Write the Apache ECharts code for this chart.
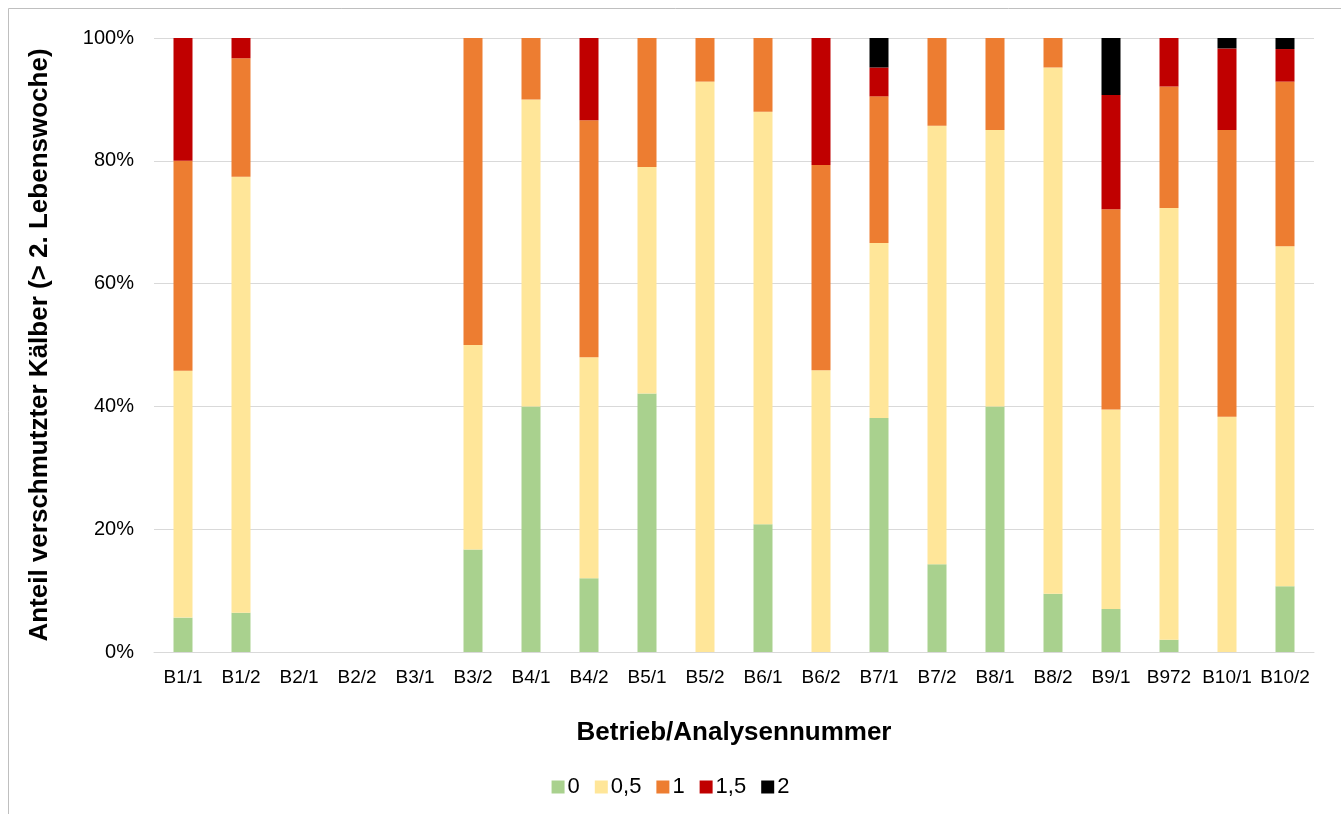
<!DOCTYPE html>
<html><head><meta charset="utf-8">
<script src="https://cdn.jsdelivr.net/npm/echarts@6/dist/echarts.min.js"></script>
<style>html,body{margin:0;padding:0;background:#fff}#c{width:1341px;height:814px}</style>
</head><body><div id="c"></div>
<script>
const categories = ["B1/1","B1/2","B2/1","B2/2","B3/1","B3/2","B4/1","B4/2","B5/1","B5/2","B6/1","B6/2","B7/1","B7/2","B8/1","B8/2","B9/1","B972","B10/1","B10/2"];
// percentages per score class
const s0   = [5.6, 6.4, 0, 0, 0, 16.7, 40.0, 12.0, 42.1, 0, 20.8, 0, 38.1, 14.3, 40.0, 9.5, 7.0, 2.0, 0, 10.7];
const s05  = [40.2, 71.0, 0, 0, 0, 33.3, 50.0, 36.0, 36.9, 92.9, 67.2, 45.9, 28.5, 71.4, 45.0, 85.7, 32.5, 70.3, 38.3, 55.4];
const s1   = [34.2, 19.3, 0, 0, 0, 50.0, 10.0, 38.6, 21.0, 7.1, 12.0, 33.4, 23.9, 14.3, 15.0, 4.8, 32.6, 19.8, 46.7, 26.8];
const s15  = [20.0, 3.3, 0, 0, 0, 0, 0, 13.4, 0, 0, 0, 20.7, 4.7, 0, 0, 0, 18.6, 7.9, 13.3, 5.3];
const s2   = [0, 0, 0, 0, 0, 0, 0, 0, 0, 0, 0, 0, 4.8, 0, 0, 0, 9.3, 0, 1.7, 1.8];
const seriesNames = ["0","0,5","1","1,5","2"];
const colors = ["#A9D18E","#FFE699","#ED7D31","#C00000","#000000"];
const yTicks = [0,20,40,60,80,100];

const font = "Liberation Sans, Arial, sans-serif";
const data = [s0,s05,s1,s15,s2];
const chart = echarts.init(document.getElementById('c'));
chart.setOption({
  animation:false,
  backgroundColor:'#fff',
  graphic:[{type:'rect',shape:{x:8.5,y:8.5,width:1340,height:820},style:{fill:'none',stroke:'#BFBFBF',lineWidth:1},silent:true}],
  grid:{left:154,right:27,top:38,bottom:162,containLabel:false},
  legend:{
    data:seriesNames, top:771, left:'center', icon:'rect', itemWidth:13, itemHeight:13, itemGap:15,
    textStyle:{fontFamily:font,fontSize:22,color:'#000',padding:[0,0,0,-2]}
  },
  xAxis:{
    type:'category', data:categories,
    name:'Betrieb/Analysennummer', nameLocation:'middle', nameGap:68,
    nameTextStyle:{fontFamily:font,fontSize:26,fontWeight:'bold',color:'#000'},
    axisLine:{lineStyle:{color:'#D9D9D9',width:1}}, axisTick:{show:false},
    axisLabel:{fontFamily:font,fontSize:19,color:'#000',margin:16,interval:0}
  },
  yAxis:{
    type:'value', min:yTicks[0], max:yTicks[yTicks.length-1], interval:20,
    name:'Anteil verschmutzter Kälber (> 2. Lebenswoche)', nameLocation:'middle', nameGap:101,
    nameTextStyle:{fontFamily:font,fontSize:26,fontWeight:'bold',color:'#000'},
    axisLine:{show:false}, axisTick:{show:false},
    axisLabel:{fontFamily:font,fontSize:20,color:'#000',margin:20,formatter:v=>v+'%'},
    splitLine:{lineStyle:{color:'#D9D9D9',width:1}}
  },
  series: seriesNames.map((n,i)=>({
    name:n, type:'bar', stack:'a', barWidth:19, data:data[i],
    itemStyle:{color:colors[i]}
  }))
});
</script></body></html>
